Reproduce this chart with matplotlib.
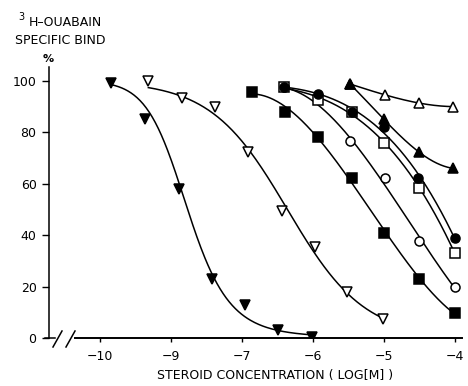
import numpy as np
import matplotlib.pyplot as plt

# x = position on the drawn log axis, y = % specific binding
x_tri_down_filled = [-8.85, -8.37, -7.89, -7.42, -6.96, -6.49, -6.01]
y_tri_down_filled = [99, 85, 58, 23, 13, 3, 0.5]

x_tri_down_open = [-8.32, -7.85, -7.38, -6.92, -6.44, -5.97, -5.52, -5.01]
y_tri_down_open = [100, 93.5, 90, 72.5, 49.5, 35.5, 18, 7.5]

x_sq_filled = [-6.86, -6.39, -5.93, -5.45, -5.0, -4.51, -4.0]
y_sq_filled = [95.7, 88, 78.2, 62.3, 40.9, 23, 9.7]

x_circ_filled = [-6.41, -5.93, -5.45, -5.0, -4.52, -4.0]
y_circ_filled = [97.7, 95, 88, 82, 62.3, 38.9]

x_sq_open = [-6.41, -5.93, -5.45, -5.0, -4.51, -4.0]
y_sq_open = [97.5, 92.6, 88, 76, 58.4, 33]

x_circ_open = [-6.41, -5.48, -4.99, -4.51, -4.0]
y_circ_open = [97.5, 76.6, 62.2, 37.7, 19.8]

x_tri_up_filled = [-5.48, -5.0, -4.51, -4.03]
y_tri_up_filled = [98.8, 85, 72.4, 66]

x_tri_up_open = [-5.48, -4.99, -4.51, -4.03]
y_tri_up_open = [98.8, 94.6, 91.4, 90]

tick_pos = [-9, -8, -7, -6, -5, -4]
tick_labels = ['\u221210', '\u22129', '\u22127', '\u22126', '\u22125', '\u22124']
y_ticks = [0, 20, 40, 60, 80, 100]


def logistic_curve(xs, ys, xx):
    # brute force fit of 100/(1+10^(h*(x-x50)))
    xs = np.asarray(xs)
    ys = np.asarray(ys)
    x50 = np.linspace(xs.min(), xs.max(), 300)[:, None, None]
    h = np.linspace(0.3, 4, 200)[None, :, None]
    pred = 100 / (1 + 10 ** (h * (xs[None, None, :] - x50)))
    err = ((pred - ys) ** 2).sum(axis=2)
    i, j = np.unravel_index(err.argmin(), err.shape)
    return 100 / (1 + 10 ** (h[0, j, 0] * (xx - x50[i, 0, 0])))


def logit_poly_curve(xs, ys, xx):
    # quadratic in logit space -> skewed sigmoid
    p = np.clip(np.asarray(ys) / 100, 0.01, 0.99)
    c = np.polyfit(xs, np.log(p / (1 - p)), 2)
    return 100 / (1 + np.exp(-np.polyval(c, xx)))


plt.rcParams['font.family'] = 'DejaVu Sans'
fig = plt.figure(figsize=(4.68, 3.86), dpi=100)
ax = fig.add_axes([49 / 468, 48 / 386, 413 / 468, 271 / 386])

series = [
    (x_circ_open, y_circ_open, 'o', 'white', 3, 'poly'),
    (x_sq_open, y_sq_open, 's', 'white', 3, 'poly'),
    (x_tri_up_open, y_tri_up_open, '^', 'white', 3, 'poly'),
    (x_tri_down_open, y_tri_down_open, 'v', 'white', 3, 'logistic'),
    (x_tri_down_filled, y_tri_down_filled, 'v', 'black', 4, 'logitpoly'),
    (x_sq_filled, y_sq_filled, 's', 'black', 4, 'poly'),
    (x_circ_filled, y_circ_filled, 'o', 'black', 5, 'poly'),
    (x_tri_up_filled, y_tri_up_filled, '^', 'black', 5, 'poly'),
]
for xs, ys, m, fc, z, kind in series:
    xx = np.linspace(xs[0], xs[-1], 200)
    if kind == 'logistic':
        yy = logistic_curve(xs, ys, xx)
    elif kind == 'logitpoly':
        yy = logit_poly_curve(xs, ys, xx)
    else:
        yy = np.polyval(np.polyfit(xs, ys, 3), xx)
    ax.plot(xx, yy, color='black', lw=1.1, zorder=2)
    ax.plot(xs, ys, ls='none', marker=m, ms=6.5, mfc=fc, mec='black',
            mew=1.1, zorder=z)

ax.set_xlim(-9.72, -3.90)
ax.set_ylim(0, 105.4)

for s in ['top', 'right']:
    ax.spines[s].set_visible(False)
ax.spines['left'].set_linewidth(1.1)
ax.spines['bottom'].set_linewidth(1.4)
ax.spines['bottom'].set_bounds(-9.35, -3.90)

ax.set_xticks(tick_pos)
ax.set_xticklabels(tick_labels)
ax.set_yticks(y_ticks)
ax.tick_params(axis='y', direction='out', length=5, width=1, pad=4, labelsize=9)
ax.tick_params(axis='x', direction='out', length=3, width=1, pad=6, labelsize=9)

# axis break  + //
tr = ax.transAxes
def px(xp, yp):
    return (xp - 49) / 413, (338 - yp) / 271
for (a, b) in [((45, 338), (55, 338)), ((53, 347), (62, 331)),
               ((66, 347), (75, 331))]:
    p1, p2 = px(*a), px(*b)
    ax.plot([p1[0], p2[0]], [p1[1], p2[1]], color='black', lw=1.1,
            transform=tr, clip_on=False)

fig.text(275 / 468, 1 - 376 / 386, 'STEROID CONCENTRATION ( LOG[M] )',
         ha='center', va='center', fontsize=9)
fig.text(18 / 468, 1 - 17 / 386, '3', ha='left', va='center', fontsize=7)
fig.text(29 / 468, 1 - 23 / 386, 'H\u2013OUABAIN', ha='left', va='center', fontsize=9)
fig.text(15 / 468, 1 - 40 / 386, 'SPECIFIC BIND', ha='left', va='center', fontsize=9)
fig.text(48 / 468, 1 - 59 / 386, '%', ha='center', va='center', fontsize=8,
         fontweight='bold')

fig.savefig('out.png', dpi=100)
